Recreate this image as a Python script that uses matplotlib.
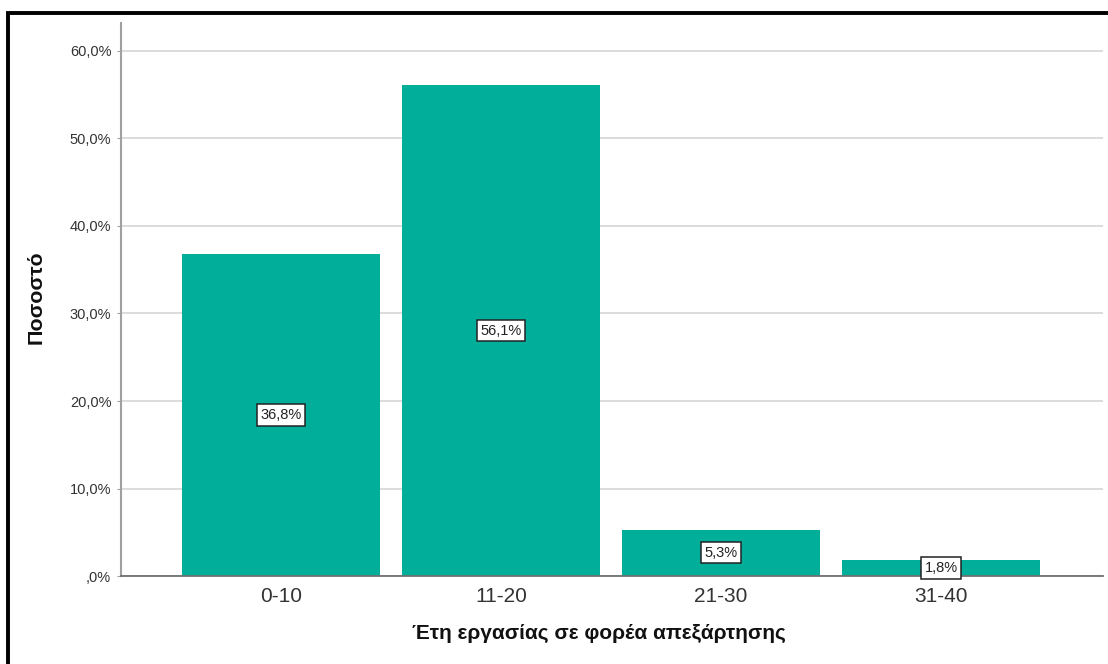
import matplotlib
matplotlib.use("Agg")
import matplotlib.pyplot as plt
import matplotlib.patches as ptc

plt.rcParams['font.family'] = ['Liberation Sans', 'DejaVu Sans']

categories = ['0-10', '11-20', '21-30', '31-40']
percent = [36.8, 56.1, 5.3, 1.8]
y_ticks = [0, 10, 20, 30, 40, 50, 60]
y_tick_labels = [',0%', '10,0%', '20,0%', '30,0%', '40,0%', '50,0%', '60,0%']
bar_color = '#00ae9a'

fig = plt.figure(figsize=(11.08, 6.64), dpi=100)
ax = fig.add_axes([0.1092, 0.1325, 0.8863, 0.8329])

x = range(len(categories))
ax.bar(x, percent, width=0.9, color=bar_color, zorder=2)

# value boxes sit at half the bar height
for xi, v in zip(x, percent):
    ax.text(xi, v / 2, ('%.1f%%' % v).replace('.', ','), ha='center', va='center',
            fontsize=10.5, color='#222222', zorder=3,
            bbox=dict(boxstyle='square,pad=0.25', fc='white', ec='#222222', lw=1.1))

ax.set_xlim(-0.727, 3.736)
ax.set_ylim(0, 63.2)
ax.set_xticks(list(x))
ax.set_xticklabels(categories, fontsize=15, color='#333333')
ax.set_yticks(y_ticks)
ax.set_yticklabels(y_tick_labels, fontsize=10.5, color='#333333')
ax.tick_params(axis='x', length=0, pad=8)
ax.tick_params(axis='y', length=3, color='#a0a0a0', pad=4)

ax.grid(axis='y', color='#d6d6d6', lw=1.2, zorder=0)
ax.set_axisbelow(True)
for side in ('top', 'right'):
    ax.spines[side].set_visible(False)
ax.spines['left'].set_color('#a0a0a0')
ax.spines['left'].set_linewidth(1.5)
ax.spines['bottom'].set_color('#707070')
ax.spines['bottom'].set_linewidth(1.3)

ax.set_xlabel('Έτη εργασίας σε φορέα απεξάρτησης', fontsize=15, fontweight='bold', color='#111111')
ax.xaxis.set_label_coords(0.487, -0.087)
ax.set_ylabel('Ποσοστό', fontsize=15.4, fontweight='bold', color='#111111')
ax.yaxis.set_label_coords(-0.077, 0.505)

# outer frame, only left and top edges fall inside the image
fig.patches.append(ptc.Rectangle((0.0072, -0.02), 1.05, 0.981 + 0.02,
                                 transform=fig.transFigure, fill=False,
                                 ec='black', lw=2.8))

fig.savefig('out.png', dpi=100)
